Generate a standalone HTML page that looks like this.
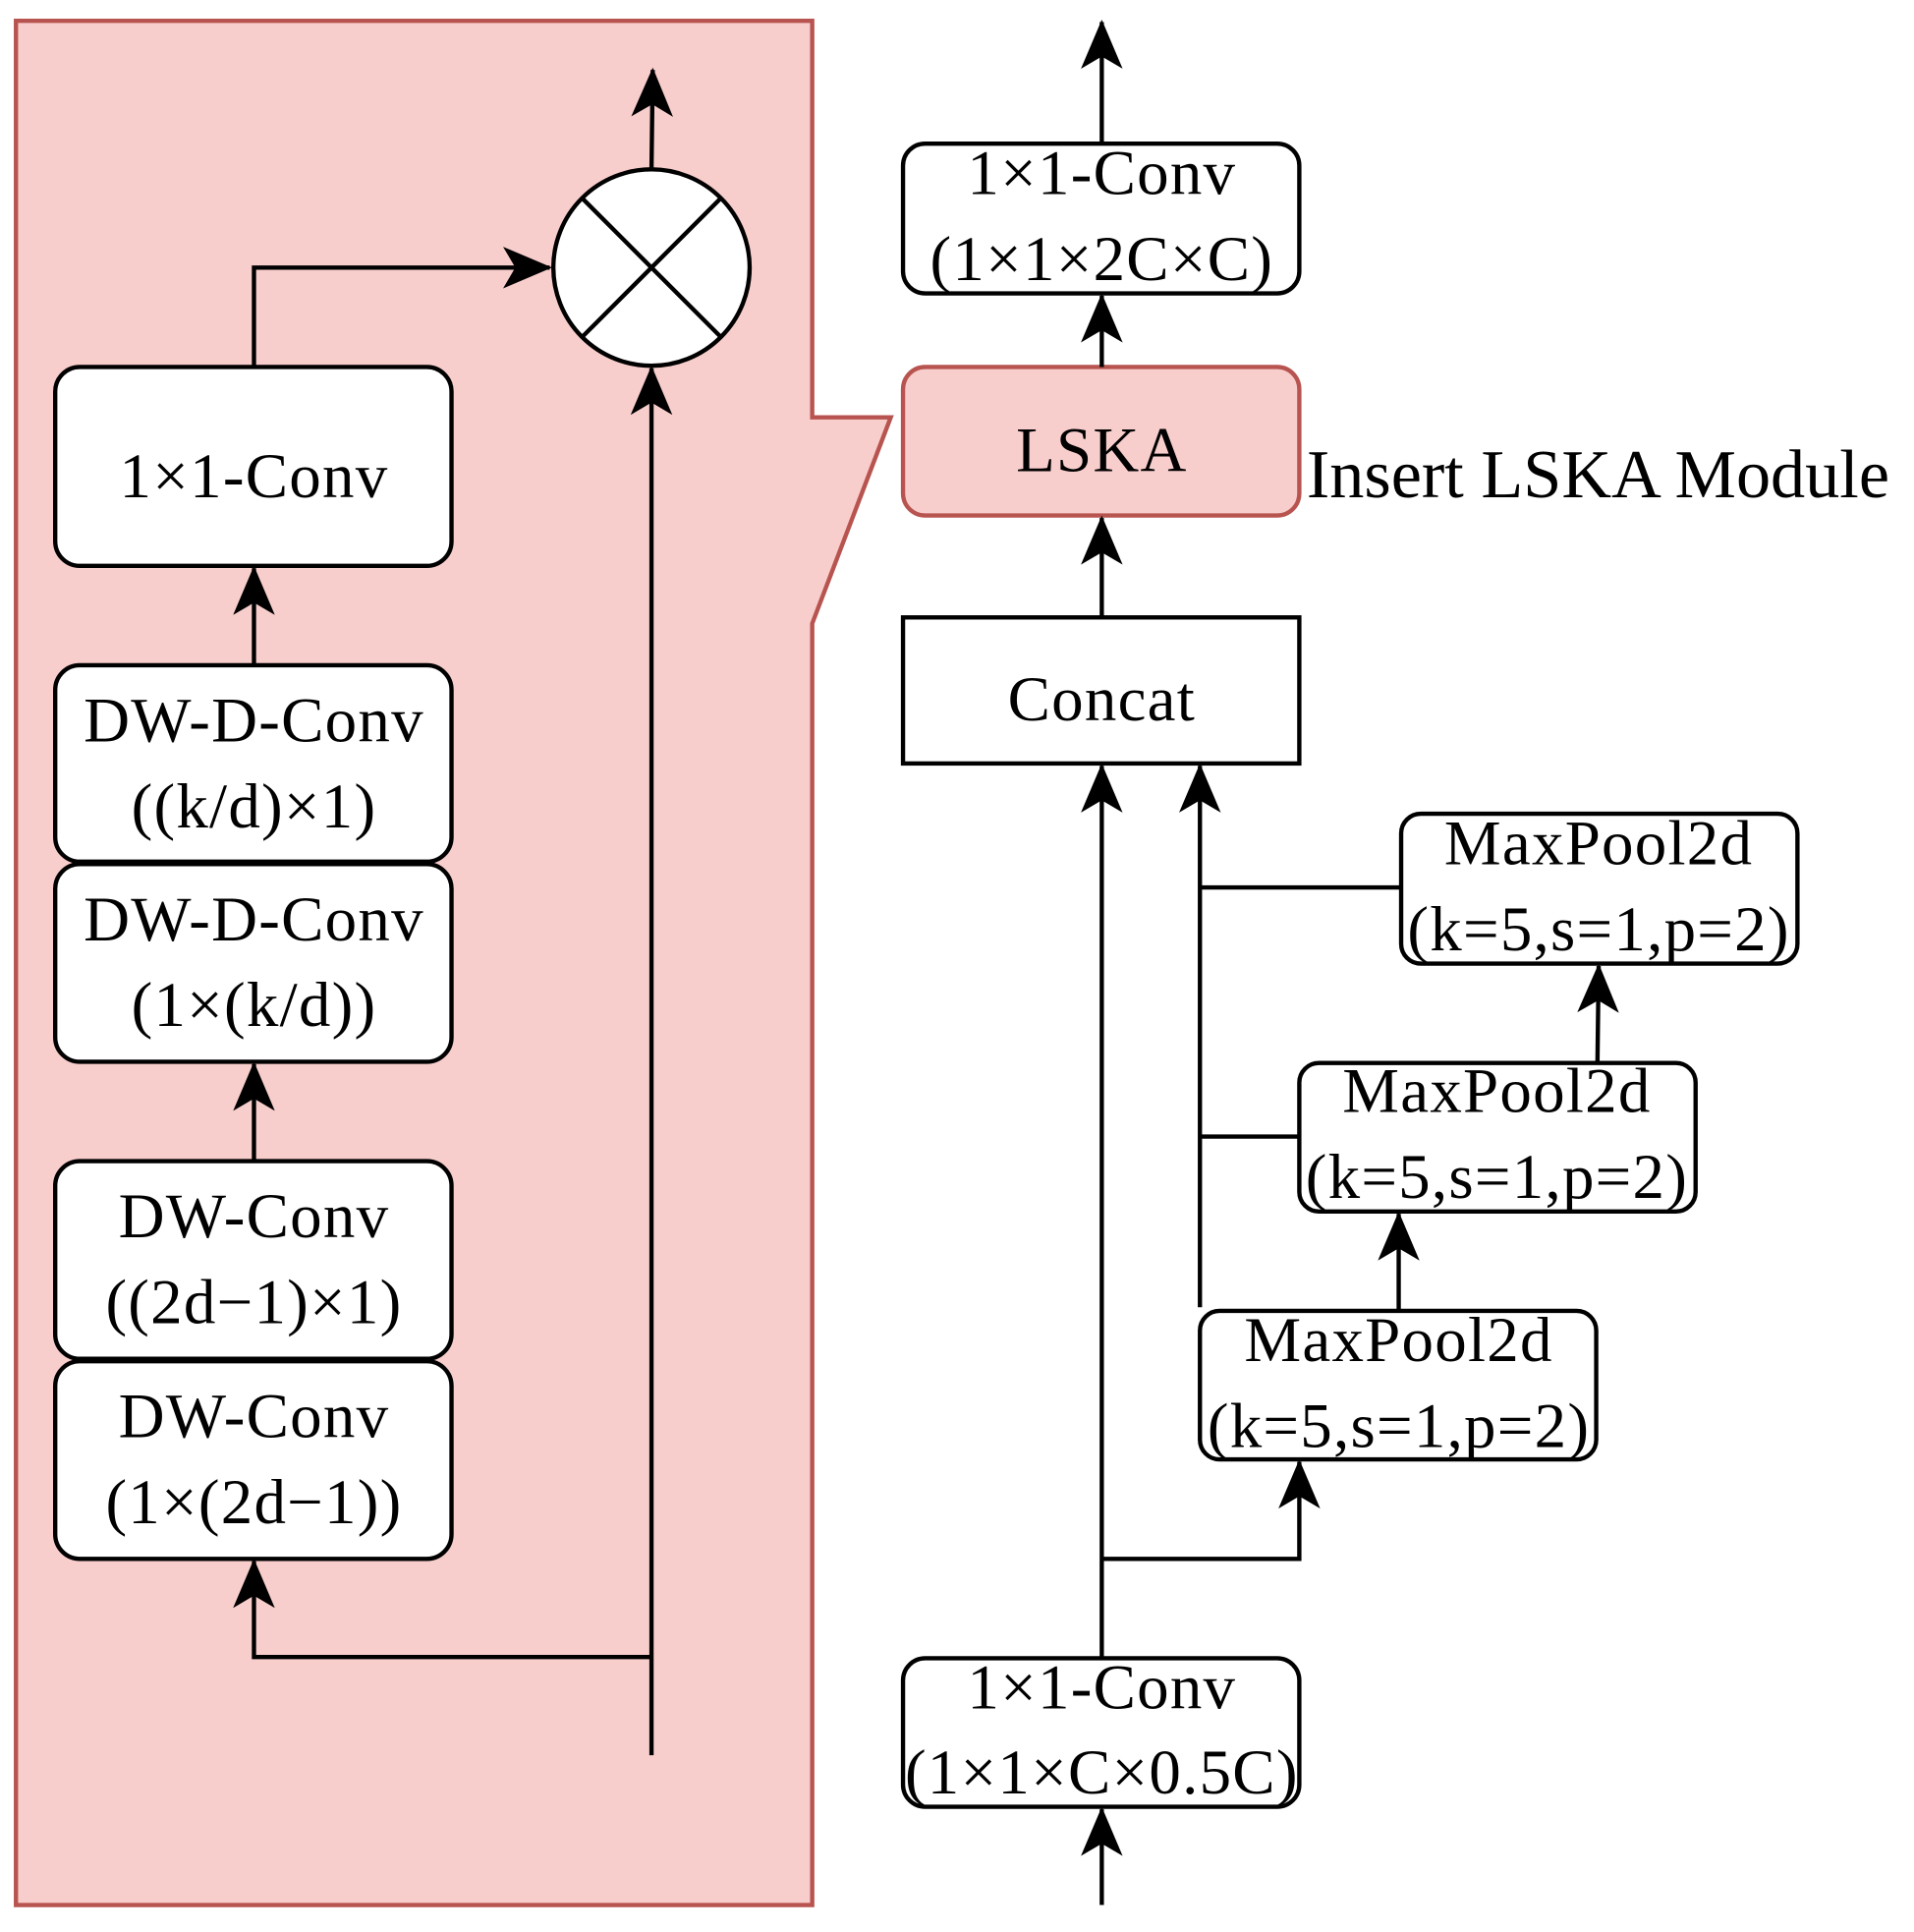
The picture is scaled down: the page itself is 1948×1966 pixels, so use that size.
<!DOCTYPE html>
<html><head><meta charset="utf-8"><style>
html,body{margin:0;padding:0;background:#fff;}
svg{display:block;}
text{font-family:"Liberation Serif",serif;fill:#000;text-anchor:middle;}
</style></head><body>
<svg width="1948" height="1966" viewBox="0 0 1560 1574" preserveAspectRatio="none" xmlns="http://www.w3.org/2000/svg">
<defs>
<marker id="a" viewBox="0 0 40 34" refX="38" refY="17" markerWidth="40" markerHeight="34" markerUnits="userSpaceOnUse" orient="auto">
<path d="M0,0 L40,17 L0,34 L10,17 Z" fill="#000"/>
</marker>
</defs>
<!-- pink panel with callout -->
<path d="M13,17 L662,17 L662,340 L726,340 L662,508 L662,1552 L13,1552 Z" fill="#f8cecc" stroke="#b85450" stroke-width="3.5"/>
<g fill="#fff" stroke="#000" stroke-width="3.5">
<rect x="45" y="299" width="323" height="162" rx="20"/>
<rect x="45" y="542" width="323" height="160" rx="20"/>
<rect x="45" y="704" width="323" height="161" rx="20"/>
<rect x="45" y="946" width="323" height="161" rx="20"/>
<rect x="45" y="1109" width="323" height="161" rx="20"/>
<circle cx="531" cy="218" r="80"/>
</g>
<g stroke="#000" stroke-width="3.5">
<line x1="474" y1="161" x2="588" y2="275"/>
<line x1="588" y1="161" x2="474" y2="275"/>
</g>
<g fill="none" stroke="#000" stroke-width="3.5" marker-end="url(#a)">
<path d="M531,1430 L531,300"/>
<path d="M531,1350 L207,1350 L207,1272"/>
<path d="M207,946 L207,867"/>
<path d="M207,542 L207,463"/>
<path d="M207,299 L207,218 L448,218"/>
<path d="M531,138 L532,57"/>
</g>
<g font-size="52" style="letter-spacing:1px">
<text x="207" y="405">1×1-Conv</text>
<text x="207" y="604">DW-D-Conv</text>
<text x="207" y="674">((k/d)×1)</text>
<text x="207" y="766">DW-D-Conv</text>
<text x="207" y="836">(1×(k/d))</text>
<text x="207" y="1008">DW-Conv</text>
<text x="207" y="1078">((2d−1)×1)</text>
<text x="207" y="1171">DW-Conv</text>
<text x="207" y="1241">(1×(2d−1))</text>
</g>
<!-- right side -->
<g fill="#fff" stroke="#000" stroke-width="3.5">
<rect x="736" y="117" width="323" height="122" rx="18"/>
<rect x="736" y="299" width="323" height="121" rx="18" fill="#f8cecc" stroke="#b85450"/>
<rect x="736" y="503" width="323" height="119"/>
<rect x="1142" y="663" width="323" height="122" rx="16"/>
<rect x="1059" y="866" width="323" height="121" rx="16"/>
<rect x="978" y="1068" width="323" height="121" rx="16"/>
<rect x="736" y="1351" width="323" height="121" rx="18"/>
</g>
<g fill="none" stroke="#000" stroke-width="3.5" marker-end="url(#a)">
<path d="M898,117 L898,18"/>
<path d="M898,299 L898,241"/>
<path d="M898,503 L898,422"/>
<path d="M898,1351 L898,624"/>
<path d="M978,1065 L978,624"/>
<path d="M898,1270 L1059,1270 L1059,1191"/>
<path d="M1140,1068 L1140,989"/>
<path d="M1302,866 L1303,787"/>
<path d="M898,1552 L898,1474"/>
</g>
<g stroke="#000" stroke-width="3.5">
<line x1="978" y1="723" x2="1142" y2="723"/>
<line x1="978" y1="926" x2="1059" y2="926"/>
</g>
<g font-size="52" style="letter-spacing:1px">
<text x="898" y="158">1×1-Conv</text>
<text x="898" y="228">(1×1×2C×C)</text>
<text x="898" y="384">LSKA</text>
<text x="898" y="587">Concat</text>
<text x="1303" y="704">MaxPool2d</text>
<text x="1303" y="774">(k=5,s=1,p=2)</text>
<text x="1220" y="906">MaxPool2d</text>
<text x="1220" y="976">(k=5,s=1,p=2)</text>
<text x="1140" y="1109">MaxPool2d</text>
<text x="1140" y="1179">(k=5,s=1,p=2)</text>
<text x="898" y="1392">1×1-Conv</text>
<text x="898" y="1461">(1×1×C×0.5C)</text>
</g>
<text x="1065" y="405" font-size="56" style="text-anchor:start" textLength="475" lengthAdjust="spacingAndGlyphs">Insert LSKA Module</text>
</svg>
</body></html>
